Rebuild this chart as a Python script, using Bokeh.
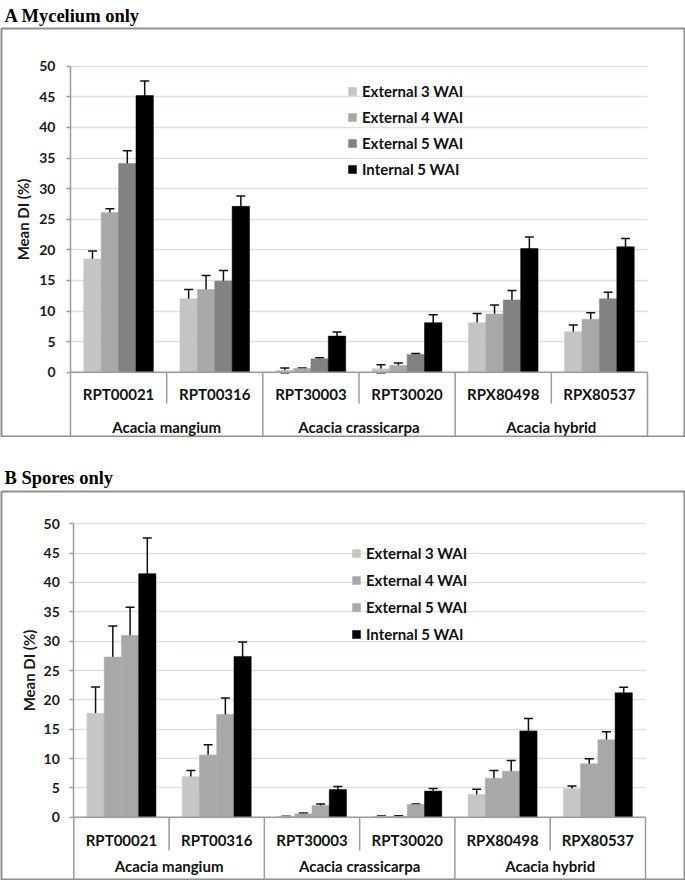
import numpy as np
from bokeh.plotting import figure
from bokeh.models import (Range1d, LinearAxis, FixedTicker, Grid, Whisker, TeeHead,
                          ColumnDataSource, Legend, LegendItem)
from bokeh.layouts import column
from bokeh.embed import file_html
from bokeh.resources import INLINE
from bokeh.core.properties import value

# ---------------- data ----------------
genotypes = ["RPT00021", "RPT00316", "RPT30003", "RPT30020", "RPX80498", "RPX80537"]
species = ["Acacia mangium", "Acacia crassicarpa", "Acacia hybrid"]
species_of_genotype = [0, 0, 1, 1, 2, 2]
series = ["External 3 WAI", "External 4 WAI", "External 5 WAI", "Internal 5 WAI"]
y_ticks = [0, 5, 10, 15, 20, 25, 30, 35, 40, 45, 50]
panel_titles = ["A  Mycelium only", "B  Spores only"]

# A  Mycelium only
myc_ext3 = [18.5, 12.0, 0.3, 0.55, 8.1, 6.6]
myc_ext3_err = [1.3, 1.5, 0.4, 0.65, 1.5, 1.1]
myc_ext4 = [26.1, 13.5, 0.6, 1.1, 9.5, 8.65]
myc_ext4_err = [0.6, 2.3, 0.1, 0.4, 1.5, 1.05]
myc_ext5 = [34.1, 14.9, 2.2, 2.9, 11.8, 12.0]
myc_ext5_err = [2.1, 1.7, 0.15, 0.15, 1.55, 1.05]
myc_int5 = [45.2, 27.1, 5.9, 8.1, 20.2, 20.5]
myc_int5_err = [2.4, 1.7, 0.65, 1.3, 1.9, 1.35]

# B  Spores only
spo_ext3 = [17.7, 6.9, 0.1, 0.15, 3.85, 4.85]
spo_ext3_err = [4.5, 1.05, 0.05, 0.05, 0.9, 0.45]
spo_ext4 = [27.3, 10.6, 0.6, 0.15, 6.65, 9.1]
spo_ext4_err = [5.3, 1.75, 0.1, 0.1, 1.3, 0.85]
spo_ext5 = [30.95, 17.5, 2.0, 2.15, 7.85, 13.2]
spo_ext5_err = [4.85, 2.8, 0.25, 0.1, 1.8, 1.35]
spo_int5 = [41.5, 27.4, 4.7, 4.45, 14.7, 21.2]
spo_int5_err = [6.1, 2.45, 0.55, 0.45, 2.1, 0.95]

colors_A = ["#c4c4c4", "#a8a8a8", "#828282", "#000000"]
colors_B = ["#c6c6c6", "#a8a8a8", "#a8a8a8", "#000000"]

FONT = "Lato"
GRID = "#dae3e3"
LINE = "#9c9c9c"
BOX = "#8f8f8f"
FIG_W = 685


def title_fig(text, height, baseline):
    t = figure(width=FIG_W, height=height, x_range=Range1d(0, FIG_W), y_range=Range1d(height, 0),
               x_axis_type=None, y_axis_type=None, output_backend="svg", toolbar_location=None,
               min_border=0)
    t.outline_line_color = None
    t.border_fill_color = "white"
    t.background_fill_color = "white"
    t.text(x=[3], y=[baseline], text=[text], text_font=value("Liberation Serif"),
           text_font_style="bold", text_font_size="18.5px", text_align="left",
           text_baseline="alphabetic", text_color="#000000")
    return t


def make_panel(vals, errs, colors, spec):
    frame_top = spec["frame_top"]
    frame_bottom = spec["frame_bottom"]
    frame_left, frame_right = 1.0, 684.0
    unit = (spec["zero"] - spec["fifty"]) / 50.0
    y_end = 50 + (spec["fifty"] - frame_top) / unit
    y_start = -(frame_bottom - spec["zero"]) / unit
    gw = (spec["right"] - spec["axis"]) / len(genotypes)
    x_start = -0.5 - (spec["axis"] - frame_left) / gw
    x_end = x_start + (frame_right - frame_left) / gw

    height = 1 + (frame_bottom - frame_top) + 1
    p = figure(width=FIG_W, height=int(round(height)),
               x_range=Range1d(x_start, x_end), y_range=Range1d(y_start, y_end),
               x_axis_type=None, y_axis_type=None,
               output_backend="svg", toolbar_location=None,
               min_border_left=1, min_border_right=1, min_border_bottom=1,
               min_border_top=1)
    p.outline_line_color = BOX
    p.outline_line_width = 2
    p.background_fill_color = "white"
    p.border_fill_color = "white"

    # grid
    grid = Grid(dimension=1, ticker=FixedTicker(ticks=y_ticks), grid_line_color=GRID,
                grid_line_width=1.5, level="underlay")
    try:
        grid.cross_bounds = (-0.5, len(genotypes) - 0.5)
    except Exception:
        pass
    p.add_layout(grid, "center")

    # y axis
    yax = LinearAxis(fixed_location=-0.5, bounds=(0, 50), ticker=FixedTicker(ticks=y_ticks),
                     axis_label="Mean DI (%)")
    yax.axis_line_color = LINE
    yax.axis_line_width = 1.5
    yax.major_tick_line_color = LINE
    yax.major_tick_line_width = 1.5
    yax.major_tick_in = 0
    yax.major_tick_out = 4
    yax.minor_tick_line_color = None
    yax.major_label_text_font = FONT
    yax.major_label_text_font_style = "bold"
    yax.major_label_text_font_size = "14px"
    yax.major_label_text_color = "#1a1a1a"
    yax.major_label_standoff = spec["label_standoff"]
    yax.axis_label_text_font = FONT
    yax.axis_label_text_font_style = "bold"
    yax.axis_label_text_font_size = "15px"
    yax.axis_label_text_color = "#1a1a1a"
    yax.axis_label_standoff = spec["axis_label_standoff"]
    p.add_layout(yax, "left")

    # bars
    w = 0.181
    idx = np.arange(len(genotypes), dtype=float)
    renderers = []
    for k in range(len(series)):
        xk = idx + (k - 1.5) * w
        src = ColumnDataSource(dict(x=xk, top=vals[k], up=np.array(vals[k]) + np.array(errs[k]),
                                    lo=np.array(vals[k]) - np.array(errs[k])))
        r = p.vbar(x="x", top="top", bottom=0, width=w, source=src,
                   fill_color=colors[k], line_color=colors[k], line_width=0.5)
        renderers.append(r)
        wh = Whisker(base="x", upper="up", lower="lo", source=src, dimension="height",
                     line_color="#111111", line_width=1.5,
                     upper_head=TeeHead(size=9, line_color="#111111", line_width=1.5),
                     lower_head=TeeHead(size=9, line_color="#111111", line_width=1.5))
        p.add_layout(wh)

    # category table
    n = len(genotypes)
    bottom = y_start
    sep_y = -spec["sep_px"] / unit
    xs0, ys0, xs1, ys1 = [], [], [], []
    xs0.append(-0.5); ys0.append(0); xs1.append(n - 0.5); ys1.append(0)
    xs0.append(-0.5); ys0.append(0); xs1.append(-0.5); ys1.append(bottom)
    for i in range(n - 1):
        xb = i + 0.5
        same = species_of_genotype[i] == species_of_genotype[i + 1]
        xs0.append(xb); ys0.append(0); xs1.append(xb); ys1.append(sep_y if same else bottom)
    xs0.append(n - 0.5); ys0.append(0); xs1.append(n - 0.5); ys1.append(bottom)
    p.segment(x0=xs0, y0=ys0, x1=xs1, y1=ys1, line_color=LINE, line_width=1.5)

    p.text(x=idx, y=[-spec["geno_px"] / unit] * n, text=genotypes,
           text_font=value(FONT), text_font_style="bold", text_font_size="15px",
           text_align="center", text_baseline="middle", text_color="#111111")
    sp_x = [float(np.mean([i for i in range(n) if species_of_genotype[i] == s]))
            for s in range(len(species))]
    p.text(x=sp_x, y=[-spec["spec_px"] / unit] * len(species), text=species,
           text_font=value(FONT), text_font_style="bold", text_font_size="15px",
           text_align="center", text_baseline="middle", text_color="#111111")

    # legend
    items = [LegendItem(label=series[k], renderers=[renderers[k]]) for k in range(len(series))]
    row_h = 20
    leg_h = 4 * row_h + 3 * spec["leg_spacing"]
    leg_top = spec["leg_first_center"] - row_h / 2
    vx = spec["leg_left"] - frame_left
    vy = frame_bottom - (leg_top + leg_h)
    leg = Legend(items=items, location=(vx, vy), orientation="vertical",
                 glyph_width=10, glyph_height=10, label_standoff=5,
                 spacing=spec["leg_spacing"], padding=0, margin=0,
                 label_text_font=FONT, label_text_font_style="bold",
                 label_text_font_size="15px", label_text_color="#111111",
                 label_height=row_h,
                 border_line_color=None, background_fill_alpha=0)
    p.add_layout(leg, "center")
    return p


spec_A = dict(frame_top=28, frame_bottom=436, zero=371.7, fifty=65.7, axis=70.0, right=647.0,
              label_standoff=11, axis_label_standoff=4,
              sep_px=31.3, geno_px=22.1, spec_px=55.0,
              leg_left=347, leg_first_center=90.7, leg_spacing=6)
spec_B = dict(frame_top=491, frame_bottom=879, zero=816.7, fifty=523.3, axis=73.3, right=645.0,
              label_standoff=10, axis_label_standoff=2,
              sep_px=33.3, geno_px=22.8, spec_px=48.5,
              leg_left=351, leg_first_center=552.7, leg_spacing=7)

tA = title_fig(panel_titles[0], 27, 15.5)
pA = make_panel([myc_ext3, myc_ext4, myc_ext5, myc_int5],
                [myc_ext3_err, myc_ext4_err, myc_ext5_err, myc_int5_err], colors_A, spec_A)
tB = title_fig(panel_titles[1], 53, 40)
pB = make_panel([spo_ext3, spo_ext4, spo_ext5, spo_int5],
                [spo_ext3_err, spo_ext4_err, spo_ext5_err, spo_int5_err], colors_B, spec_B)

layout = column(tA, pA, tB, pB, spacing=0)
open("out.html", "w").write(file_html(layout, INLINE))
